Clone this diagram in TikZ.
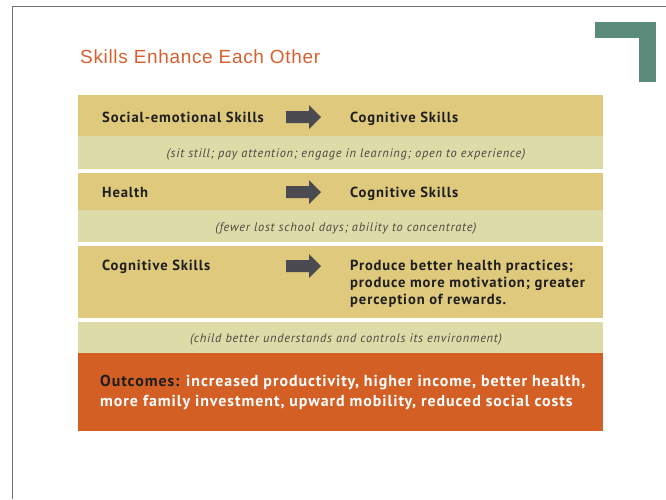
\documentclass[tikz,border=0pt]{standalone}
\usepackage{fontspec}
\setmainfont{PT Sans}[LetterSpace=6]
\newfontfamily\titlefont{Liberation Sans}[LetterSpace=3.5]
\usetikzlibrary{positioning}
\definecolor{tanband}{HTML}{DFC97C}
\definecolor{paleband}{HTML}{DDDBA8}
\definecolor{outband}{HTML}{D45F24}
\definecolor{cornergreen}{HTML}{5B8B7B}
\definecolor{titleorange}{HTML}{D9602E}
\definecolor{framegray}{HTML}{707070}
\definecolor{arrowgray}{HTML}{4A4A50}
\definecolor{inkgray}{HTML}{1E1E1E}
\definecolor{notegray}{HTML}{4A4A42}

\begin{document}
\begin{tikzpicture}[x=1pt, y=-1pt,
  ttl/.style={anchor=base west, inner sep=0pt, font=\titlefont\fontsize{19}{21}\selectfont, text=titleorange},
  head/.style={anchor=base west, inner sep=0pt, font=\fontsize{14.6}{17}\selectfont\bfseries, text=inkgray, align=left},
  note/.style={anchor=base, inner sep=0pt, font=\fontsize{12.4}{14}\selectfont\itshape, text=notegray},
  outc/.style={anchor=base west, inner sep=0pt, font=\fontsize{15.9}{20}\selectfont\bfseries, text=white, align=left},
  fatarrow/.pic={\fill[arrowgray] (0,-6) -- (23,-6) -- (23,-12) -- (35,0) -- (23,12) -- (23,6) -- (0,6) -- cycle;}]
\useasboundingbox (0,0) rectangle (666,499);
\fill[white] (0,0) rectangle (666,499);
% slide frame and corner mark
\draw[framegray, line width=1pt] (12,499) -- (12,6) -- (666,6);
\fill[cornergreen] (595,22) rectangle (656,38);
\fill[cornergreen] (639,22) rectangle (656,82);
\node[ttl] (title) at (80,63) {Skills Enhance Each Other};
% bands
\fill[tanband] (78,95) rectangle (603,136);
\fill[paleband] (78,136) rectangle (603,169);
\fill[tanband] (78,173) rectangle (603,210);
\fill[paleband] (78,210) rectangle (603,242);
\fill[tanband] (78,246) rectangle (603,318);
\fill[paleband] (78,322) rectangle (603,353);
\fill[outband] (78,353) rectangle (603,431);
% row 1
\node[head] (se) at (102,122) {Social-emotional Skills};
\node[head] (cog1) at (350,122) {Cognitive Skills};
\pic at (286,117) {fatarrow};
\node[note] (n1) at (346,157.5) {(sit still; pay attention; engage in learning; open to experience)};
% row 2
\node[head] (hl) at (102,197) {Health};
\node[head] (cog2) at (350,197) {Cognitive Skills};
\pic at (286,192) {fatarrow};
\node[note] (n2) at (346,231) {(fewer lost school days; ability to concentrate)};
% row 3
\node[head] (cog3) at (102,270) {Cognitive Skills};
\node[head, anchor=north west] (prod) at (350,259.5) {Produce better health practices;\\produce more motivation; greater\\perception of rewards.};
\pic at (286,266) {fatarrow};
\node[note] (n3) at (346,342.5) {(child better understands and controls its environment)};
% outcomes
\node[outc, anchor=north west] (out) at (100,374.5) {{\color{inkgray}Outcomes:} increased productivity, higher income, better health,\\more family investment, upward mobility, reduced social costs};
\end{tikzpicture}
\end{document}
